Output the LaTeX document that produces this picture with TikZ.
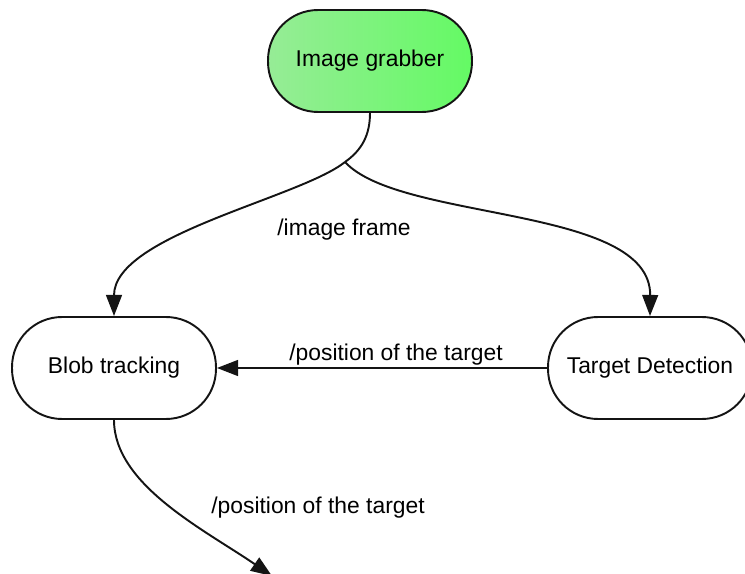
\documentclass[tikz,border=0pt]{standalone}
\usepackage{fontspec}
\setmainfont{Liberation Sans}
\usepackage{xcolor}
\usepackage{tikz}
\usetikzlibrary{arrows.meta, positioning, calc}
\definecolor{grableft}{RGB}{150, 236, 150}
\definecolor{grabright}{RGB}{100, 250, 100}
\definecolor{edgeblack}{RGB}{20, 20, 20}

\begin{document}
\begin{tikzpicture}[x=0.02cm, y=-0.02cm,
    block/.style={draw=edgeblack, line width=1.1pt, rounded corners=1.0cm,
        minimum width=4.08cm, minimum height=2.04cm, fill=white,
        font=\fontsize{13}{15}\selectfont},
    flow/.style={draw=edgeblack, line width=1.1pt},
    arr/.style={flow, -{Triangle[length=12pt, width=9pt]}},
    lbl/.style={font=\fontsize{13}{15}\selectfont, inner sep=0pt}]
    \useasboundingbox (0,0) rectangle (745,574);

    % Nodes
    \node[block, left color=grableft, right color=grabright] (grabber) at (370,61) {Image grabber};
    \node[block] (blob) at (114,368) {Blob tracking};
    \node[block] (detect) at (650,368) {Target Detection};

    % Frame topic, split into two branches
    \coordinate (split) at (345,162);
    \coordinate (out) at (272,576);
    \draw[flow] (grabber.south) .. controls (370,135) and (362,150) .. (split);
    \draw[arr] (split) .. controls (300,198) and (114,235) .. (blob.north);
    \draw[arr] (split) .. controls (400,222) and (651,205) .. (detect.north);
    \node[lbl] (framelbl) at (344,230) {/image frame};

    % Target position from detection to tracking
    \draw[arr] (detect.west) -- (blob.east);
    \node[lbl] (poslbl) at (396,355) {/position of the target};

    % Output of the tracker
    \draw[arr] (blob.south) .. controls (114,485) and (205,530) .. (out);
    \node[lbl] (outlbl) at (318,508) {/position of the target};
\end{tikzpicture}
\end{document}
